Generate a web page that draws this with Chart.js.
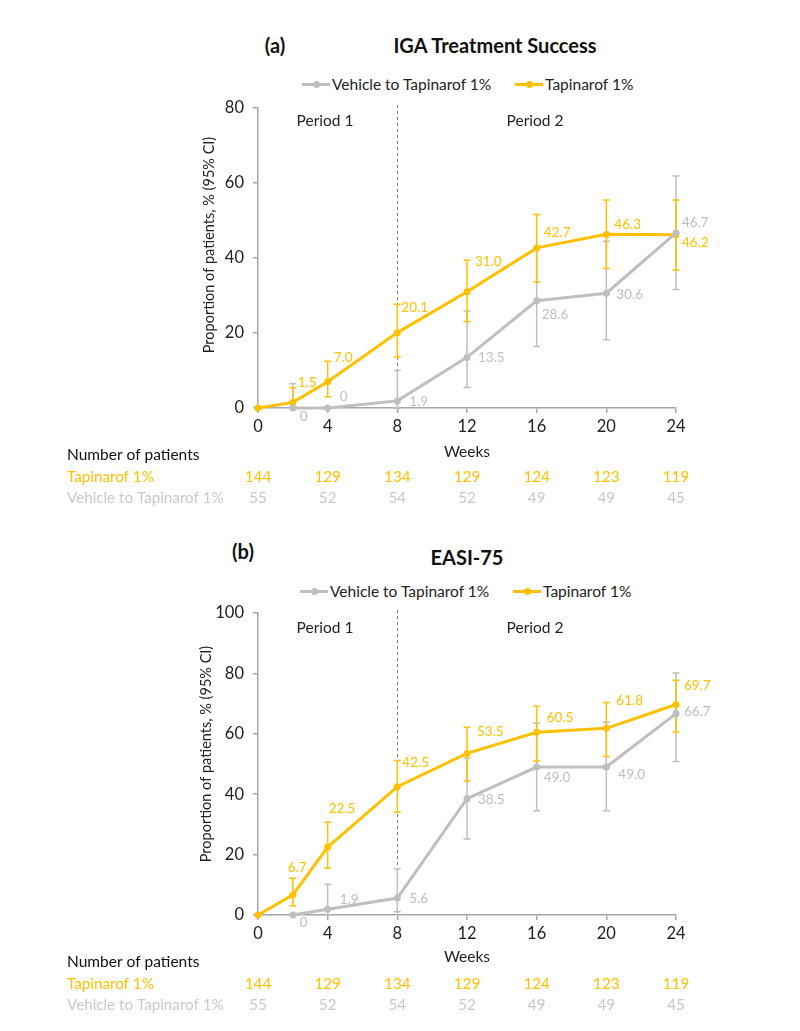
<!DOCTYPE html>
<html>
<head>
<meta charset="utf-8">
<script src="https://cdn.jsdelivr.net/npm/chart.js@4.4.1/dist/chart.umd.min.js"></script>
<style>
  html, body { margin: 0; padding: 0; background: #fff; }
  body { width: 800px; height: 1031px; position: relative; overflow: hidden; font-family: Lato, "Open Sans", sans-serif; color: #222; }
  canvas { position: absolute; left: 0; }
  .t { position: absolute; white-space: nowrap; transform: translate(-50%, -50%); font-weight: bold; font-size: 20px; color: #111; }
  .lg { position: absolute; font-size: 15.5px; white-space: nowrap; display: flex; align-items: center; transform: translateY(-50%); color: #222; }
  .sw { position: relative; width: 28px; height: 3px; margin-right: 2px; }
  .sw i { position: absolute; left: 11px; top: -2px; width: 7px; height: 7px; border-radius: 50%; }
</style>
</head>
<body>
<div class="t" style="left:275px; top:45px;">(a)</div>
<div class="t" style="left:495px; top:45px;">IGA Treatment Success</div>
<div class="lg" style="left:302px; top:84px;"><span class="sw" style="background:#BFBFBF"><i style="background:#BFBFBF"></i></span>Vehicle to Tapinarof 1%</div>
<div class="lg" style="left:515px; top:84px;"><span class="sw" style="background:#FFC000"><i style="background:#FFC000"></i></span>Tapinarof 1%</div>

<div class="t" style="left:243px; top:551px;">(b)</div>
<div class="t" style="left:467px; top:557px;">EASI-75</div>
<div class="lg" style="left:300px; top:591px;"><span class="sw" style="background:#BFBFBF"><i style="background:#BFBFBF"></i></span>Vehicle to Tapinarof 1%</div>
<div class="lg" style="left:513px; top:591px;"><span class="sw" style="background:#FFC000"><i style="background:#FFC000"></i></span>Tapinarof 1%</div>

<canvas id="cA" width="800" height="515" style="top:0;width:800px;height:515px"></canvas>
<canvas id="cB" width="800" height="516" style="top:515px;width:800px;height:516px"></canvas>

<script>
// ---------- data ----------
const tapWeeks = [0, 2, 4, 8, 12, 16, 20, 24];
const vehWeeks = [2, 4, 8, 12, 16, 20, 24];
const xTicks = [0, 4, 8, 12, 16, 20, 24];

// (a) IGA Treatment Success
const igaTap   = [0, 1.5, 7.0, 20.1, 31.0, 42.7, 46.3, 46.2];
const igaTapLo = [null, 0.2, 3.0, 13.6, 23.1, 33.6, 37.2, 36.8];
const igaTapHi = [null, 5.4, 12.5, 27.7, 39.4, 51.6, 55.5, 55.5];
const igaVeh   = [0, 0, 1.9, 13.5, 28.6, 30.6, 46.7];
const igaVehLo = [0, null, 0, 5.5, 16.4, 18.2, 31.6];
const igaVehHi = [6.5, null, 10.0, 25.9, 42.5, 44.5, 61.9];

// (b) EASI-75
const easiTap   = [0, 6.7, 22.5, 42.5, 53.5, 60.5, 61.8, 69.7];
const easiTapLo = [null, 3.1, 15.5, 34.0, 44.4, 51.0, 52.5, 60.6];
const easiTapHi = [null, 12.2, 30.7, 51.2, 62.2, 69.1, 70.4, 77.7];
const easiVeh   = [0, 1.9, 5.6, 38.5, 49.0, 49.0, 66.7];
const easiVehLo = [null, 0, 1.1, 25.2, 34.5, 34.5, 50.8];
const easiVehHi = [null, 10.2, 15.2, 52.0, 63.5, 63.8, 80.1];

// number of patients
const nWeeks = [0, 4, 8, 12, 16, 20, 24];
const nTap = [144, 129, 134, 129, 124, 123, 119];
const nVeh = [55, 52, 54, 52, 49, 49, 45];

// ---------- styling ----------
const YEL = '#FFC000';
const GRY = '#BFBFBF';
const AX = '#A6A6A6';
const FONT = 'Lato, "Open Sans", sans-serif';

// label offsets (dx = left edge of text, dy = vertical centre) relative to point
const offA = {
  tap: [null, [5,-20], [6,-24], [4,-25], [8,-30], [7,-15], [8,-10], [6,8]],
  veh: [[7,9], [12,-11], [12,1], [11,0], [5,14], [10,1], [6,-10]]
};
const offB = {
  tap: [null, [-5,-27], [1,-38], [5,-24], [10,-22], [10,-15], [10,-28], [8,-19]],
  veh: [[7,8], [12,-10], [12,1], [11,1], [7,11], [12,8], [8,-2]]
};

function fmt(v) { return v === 0 ? '0' : v.toFixed(1); }
function pts(xs, ys) { return xs.map((x, i) => ({ x: x, y: ys[i] })); }

function makeChart(id, cfg) {
  const canvas = document.getElementById(id);
  const H = canvas.height;
  const extras = {
    id: 'extras',
    beforeDatasetsDraw(chart) {
      const ctx = chart.ctx, xs = chart.scales.x, ys = chart.scales.y, ca = chart.chartArea;
      ctx.save();
      ctx.strokeStyle = '#7F7F7F';
      ctx.lineWidth = 1;
      ctx.setLineDash([3, 3]);
      const dx = Math.round(xs.getPixelForValue(8)) + 0.5;
      ctx.beginPath(); ctx.moveTo(dx, ca.top - 3); ctx.lineTo(dx, ca.bottom); ctx.stroke();
      ctx.setLineDash([]);
      cfg.err.forEach(e => {
        ctx.strokeStyle = e.color; ctx.lineWidth = 1.5;
        e.x.forEach((w, i) => {
          if (e.lo[i] == null) return;
          const px = xs.getPixelForValue(w);
          const yl = ys.getPixelForValue(e.lo[i]);
          const yh = ys.getPixelForValue(e.hi[i]);
          ctx.beginPath();
          ctx.moveTo(px, yl); ctx.lineTo(px, yh);
          ctx.moveTo(px - 3.5, yh); ctx.lineTo(px + 3.5, yh);
          ctx.moveTo(px - 3.5, yl); ctx.lineTo(px + 3.5, yl);
          ctx.stroke();
        });
      });
      ctx.restore();
    },
    afterDraw(chart) {
      const ctx = chart.ctx, xs = chart.scales.x, ys = chart.scales.y;
      ctx.save();
      ctx.textBaseline = 'middle';
      ctx.fillStyle = '#222';
      ctx.font = '15.5px ' + FONT;
      ctx.textAlign = 'center';
      ctx.fillText('Period 1', 325, cfg.periodY);
      ctx.fillText('Period 2', 535, cfg.periodY);
      ctx.font = '13.5px ' + FONT;
      ctx.textAlign = 'left';
      cfg.labels.forEach(L => {
        ctx.fillStyle = L.color;
        L.x.forEach((w, i) => {
          const o = L.off[i];
          if (!o) return;
          const px = xs.getPixelForValue(w), py = ys.getPixelForValue(L.y[i]);
          ctx.fillText(fmt(L.y[i]), px + o[0], py + o[1]);
        });
      });
      ctx.save();
      ctx.translate(cfg.yTitle[0], cfg.yTitle[1]);
      ctx.rotate(-Math.PI / 2);
      ctx.textAlign = 'center';
      ctx.fillStyle = '#222';
      ctx.font = '14.5px ' + FONT;
      ctx.fillText('Proportion of patients, % (95% CI)', 0, 0);
      ctx.restore();
      ctx.textAlign = 'center';
      ctx.fillStyle = '#222';
      ctx.font = '15.5px ' + FONT;
      ctx.fillText('Weeks', xs.getPixelForValue(12), cfg.weeksY);
      ctx.textAlign = 'left';
      ctx.font = '15.5px ' + FONT;
      ctx.fillStyle = '#111';
      ctx.fillText('Number of patients', 67, cfg.tableY[0]);
      ctx.font = '15.2px ' + FONT;
      ctx.fillStyle = YEL;
      ctx.fillText('Tapinarof 1%', 67, cfg.tableY[1]);
      ctx.fillStyle = '#C9C9C9';
      ctx.fillText('Vehicle to Tapinarof 1%', 67, cfg.tableY[2]);
      ctx.textAlign = 'center';
      nWeeks.forEach((w, i) => {
        const px = xs.getPixelForValue(w);
        ctx.fillStyle = YEL; ctx.fillText(String(nTap[i]), px, cfg.tableY[1]);
        ctx.fillStyle = '#C9C9C9'; ctx.fillText(String(nVeh[i]), px, cfg.tableY[2]);
      });
      ctx.restore();
    }
  };

  return new Chart(canvas, {
    type: 'line',
    data: {
      datasets: [
        { label: 'Vehicle to Tapinarof 1%', data: pts(vehWeeks, cfg.veh), borderColor: GRY, backgroundColor: GRY,
          borderWidth: 3, pointRadius: 3.5, pointBorderWidth: 0, pointBackgroundColor: GRY, tension: 0, clip: false },
        { label: 'Tapinarof 1%', data: pts(tapWeeks, cfg.tap), borderColor: YEL, backgroundColor: YEL,
          borderWidth: 3, pointRadius: 3.5, pointBorderWidth: 0, pointBackgroundColor: YEL, tension: 0, clip: false }
      ]
    },
    options: {
      responsive: false,
      animation: false,
      devicePixelRatio: 1,
      layout: { padding: { left: 200, right: 124, top: cfg.top, bottom: H - cfg.bottom - 30 } },
      plugins: { legend: { display: false }, tooltip: { enabled: false }, title: { display: false } },
      scales: {
        x: {
          type: 'linear', min: 0, max: 24,
          afterBuildTicks: s => { s.ticks = xTicks.map(v => ({ value: v })); },
          afterFit: s => { s.height = 30; },
          ticks: { color: '#222', font: { size: 16.5, family: FONT }, padding: 4, maxRotation: 0, autoSkip: false },
          grid: { display: true, drawOnChartArea: false, drawTicks: true, tickLength: 5, color: AX, lineWidth: 1.5 },
          border: { display: true, color: AX, width: 1.5 }
        },
        y: {
          min: 0, max: cfg.ymax,
          afterBuildTicks: s => { s.ticks = cfg.yTicks.map(v => ({ value: v })); },
          afterFit: s => { s.width = 58; },
          ticks: { color: '#222', font: { size: 16.5, family: FONT }, padding: 9 },
          grid: { display: true, drawOnChartArea: false, drawTicks: true, tickLength: 5, color: AX, lineWidth: 1.5 },
          border: { display: true, color: AX, width: 1.5 }
        }
      }
    },
    plugins: [extras]
  });
}

makeChart('cA', {
  top: 108, bottom: 408, ymax: 80, yTicks: [0, 20, 40, 60, 80],
  tap: igaTap, veh: igaVeh,
  err: [
    { x: vehWeeks, lo: igaVehLo, hi: igaVehHi, color: GRY },
    { x: tapWeeks, lo: igaTapLo, hi: igaTapHi, color: YEL }
  ],
  labels: [
    { x: vehWeeks, y: igaVeh, off: offA.veh, color: GRY },
    { x: tapWeeks, y: igaTap, off: offA.tap, color: YEL }
  ],
  periodY: 121, yTitle: [209, 245], weeksY: 452, tableY: [455, 477, 498]
});

makeChart('cB', {
  top: 98, bottom: 400, ymax: 100, yTicks: [0, 20, 40, 60, 80, 100],
  tap: easiTap, veh: easiVeh,
  err: [
    { x: vehWeeks, lo: easiVehLo, hi: easiVehHi, color: GRY },
    { x: tapWeeks, lo: easiTapLo, hi: easiTapHi, color: YEL }
  ],
  labels: [
    { x: vehWeeks, y: easiVeh, off: offB.veh, color: GRY },
    { x: tapWeeks, y: easiTap, off: offB.tap, color: YEL }
  ],
  periodY: 113, yTitle: [206, 239], weeksY: 442, tableY: [447, 469, 490]
});
</script>
</body>
</html>
